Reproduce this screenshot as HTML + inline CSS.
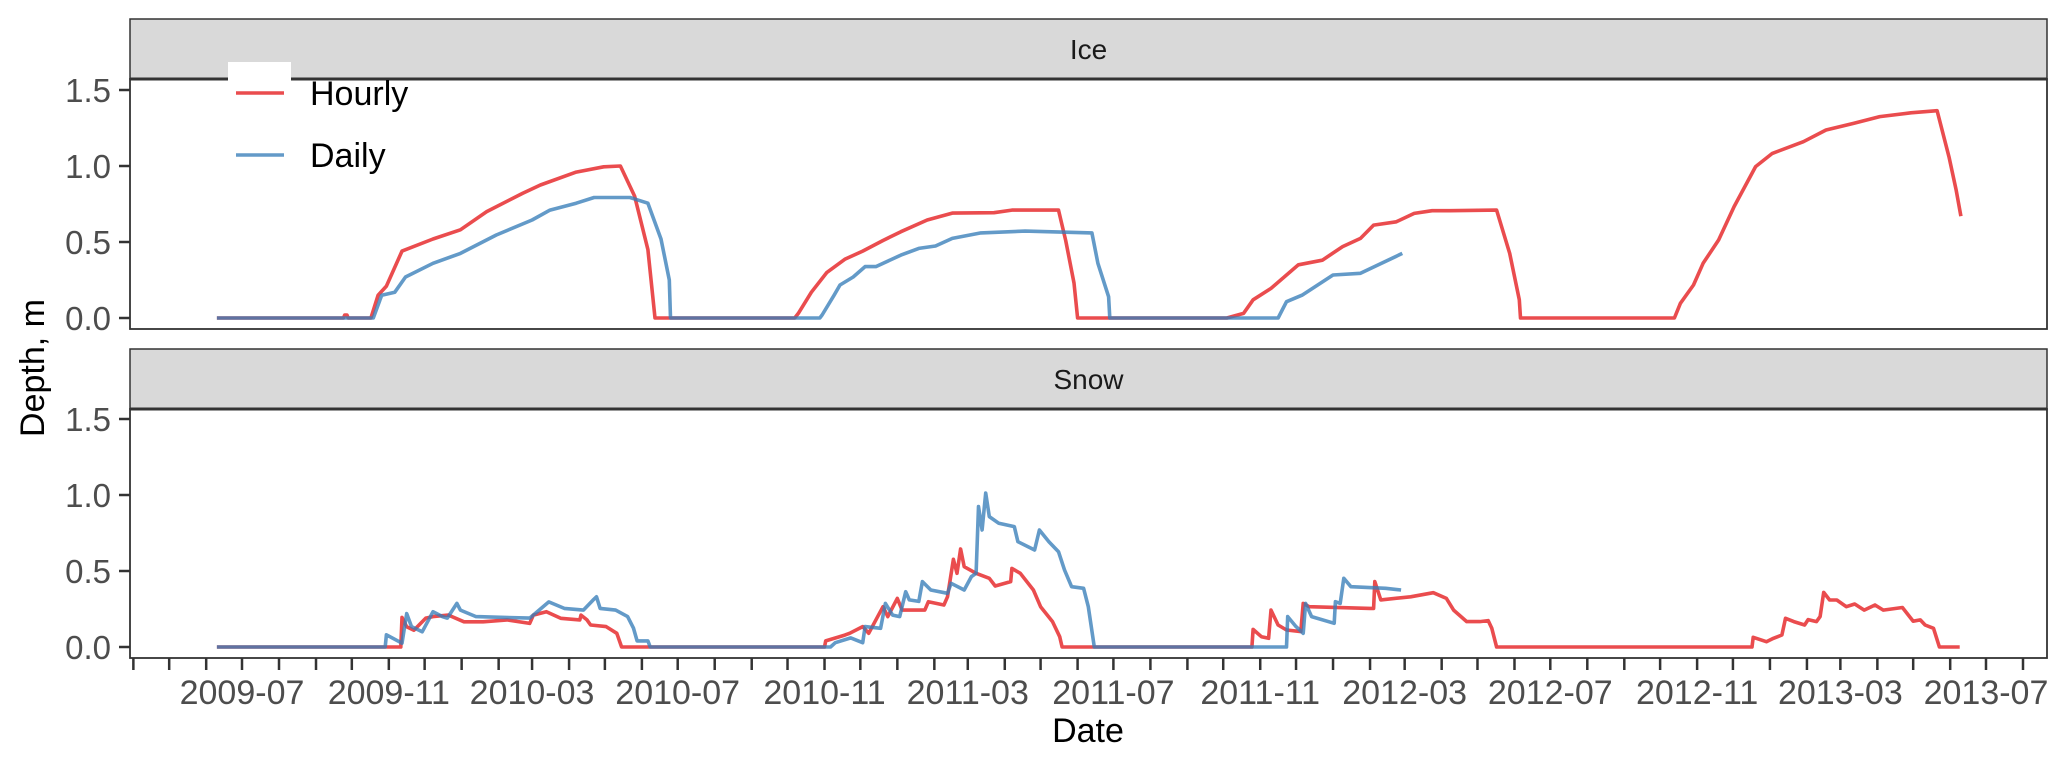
<!DOCTYPE html>
<html><head><meta charset="utf-8">
<style>
html,body{margin:0;padding:0;background:#fff;}
svg{display:block;font-family:"Liberation Sans",Arial,sans-serif;}
</style></head>
<body>
<svg id="chart" width="2067" height="765" viewBox="0 0 2067 765"></svg>
<script>
// ---- data (days since 2009-07-01, depth in m) ----
const iceHourlyDays = [-21,85,86,88,89,108,114,121,134,160,183,205,235,250,280,303,317,329,340,346,463,466,477,490,505,520,537,552,574,595,630,645,684,690,697,700,825,839,847,862,885,905,922,937,948,967,982,997,1012,1051,1062,1070,1071,1200,1205,1216,1224,1237,1250,1268,1282,1308,1327,1350,1372,1398,1420,1430,1436,1440];
const iceHourlyVals = [0,0,0.02,0.02,0,0,0.15,0.21,0.44,0.52,0.58,0.70,0.82,0.875,0.96,0.995,1.0,0.80,0.45,0,0,0.03,0.17,0.30,0.386,0.44,0.51,0.568,0.645,0.69,0.693,0.71,0.71,0.51,0.23,0,0,0.03,0.12,0.195,0.35,0.38,0.47,0.524,0.611,0.633,0.688,0.706,0.706,0.71,0.425,0.12,0,0,0.097,0.217,0.36,0.513,0.733,0.996,1.083,1.16,1.237,1.28,1.325,1.35,1.364,1.06,0.84,0.67];
const iceDailyDays = [-21,110,117,128,137,160,183,213,243,258,280,295,325,340,351,358,359,484,486,496,501,512,522,531,552,567,581,595,619,656,712,717,726,727,868,875,888,914,937,952,972];
const iceDailyVals = [0,0,0.15,0.17,0.27,0.36,0.425,0.546,0.645,0.71,0.755,0.793,0.793,0.755,0.52,0.25,0,0,0.02,0.15,0.217,0.27,0.338,0.338,0.414,0.458,0.474,0.524,0.56,0.572,0.56,0.36,0.14,0,0,0.107,0.15,0.283,0.294,0.35,0.425];
const snowHourlyDays = [-21,133,134,138,144,154,160,173,186,202,222,241,244,255,267,283,284,289,292,305,314,318,488,489,505,509,520,525,537,541,549,553,572,575,588,591,596,599,602,605,615,626,631,644,645,652,663,669,679,685,687,846,847,854,860,862,868,875,887,889,894,945,948,949,954,979,998,1009,1015,1026,1037,1044,1047,1051,1265,1266,1277,1283,1290,1293,1300,1309,1312,1319,1322,1325,1330,1336,1344,1351,1359,1368,1375,1391,1400,1406,1410,1417,1422,1439];
const snowHourlyVals = [0,0,0.195,0.133,0.11,0.19,0.2,0.21,0.166,0.166,0.178,0.155,0.21,0.232,0.189,0.178,0.21,0.178,0.145,0.134,0.09,0,0,0.04,0.078,0.09,0.134,0.09,0.265,0.2,0.32,0.243,0.243,0.298,0.276,0.33,0.577,0.485,0.645,0.528,0.485,0.452,0.401,0.43,0.517,0.485,0.375,0.265,0.167,0.068,0,0,0.116,0.068,0.057,0.243,0.145,0.112,0.101,0.287,0.265,0.254,0.254,0.43,0.31,0.33,0.357,0.32,0.243,0.167,0.167,0.174,0.123,0,0,0.064,0.035,0.057,0.079,0.189,0.167,0.145,0.18,0.167,0.2,0.359,0.309,0.309,0.265,0.283,0.243,0.276,0.243,0.26,0.17,0.178,0.145,0.123,0,0];
const snowDailyDays = [-21,120,121,134,138,142,151,160,168,172,180,183,196,241,257,270,286,294,297,300,313,323,328,331,340,342,493,497,510,520,522,535,539,545,551,556,559,567,570,577,591,594,605,611,615,617,620,623,626,634,647,650,664,668,676,684,689,695,705,709,714,875,876,883,889,891,896,915,916,920,923,929,958,971];
const snowDailyVals = [0,0,0.08,0.025,0.22,0.134,0.1,0.232,0.2,0.19,0.287,0.243,0.2,0.19,0.297,0.254,0.243,0.308,0.33,0.254,0.243,0.2,0.124,0.04,0.04,0,0,0.028,0.06,0.028,0.134,0.123,0.287,0.21,0.2,0.364,0.31,0.3,0.43,0.375,0.353,0.419,0.375,0.463,0.485,0.924,0.77,1.013,0.858,0.814,0.792,0.693,0.638,0.77,0.693,0.627,0.507,0.397,0.386,0.265,0,0,0.2,0.134,0.09,0.287,0.2,0.156,0.298,0.287,0.452,0.397,0.386,0.375];
const yTickVals = [0.0, 0.5, 1.0, 1.5];
const yTickLabels = ["0.0","0.5","1.0","1.5"];
const xLabelMonths = ["2009-07","2009-11","2010-03","2010-07","2010-11","2011-03","2011-07","2011-11","2012-03","2012-07","2012-11","2013-03","2013-07"];

// ---- layout ----
const svg = document.getElementById('chart');
const NS = 'http://www.w3.org/2000/svg';
const PL = 130, PR = 2047;
const panels = [
  {name:'ice', label:'Ice', stripTop:19, top:79, bottom:329, zero:318},
  {name:'snow', label:'Snow', stripTop:349, top:409, bottom:658, zero:647}
];
const PXPERM = 152;
const BASE = Date.UTC(2009,6,1);
const PXPERDAY = 1.1937;
function xScale(day){ return 242 + day*PXPERDAY; }
function xDate(y,m){ return xScale((Date.UTC(y,m,1)-BASE)/86400000); }
function yScale(p,v){ return p.zero - v*PXPERM; }
function mk(tag, attrs, parent){
  const e = document.createElementNS(NS, tag);
  for (const k in attrs) e.setAttribute(k, attrs[k]);
  (parent||svg).appendChild(e);
  return e;
}
const RED = '#E41A1C', BLUE = '#377EB8';

panels.forEach(p => {
  const g = mk('g', {});
  
  
  const st = mk('rect', {x:PL, y:p.stripTop, width:PR-PL, height:p.top-p.stripTop, fill:'#d9d9d9', stroke:'#333', 'stroke-width':1.5}, g);
  
  
  const stt = mk('text', {x:(PL+PR)/2, y:(p.stripTop+p.top)/2+10, 'text-anchor':'middle', 'font-size':28, fill:'#1a1a1a'}, g);
  stt.textContent = p.label;
  
  
  yTickVals.forEach((v,i) => {
    const y = yScale(p, v);
    const tk = mk('line', {x1:119, x2:PL, y1:y, y2:y, stroke:'#333', 'stroke-width':2.5}, g);
    
    
    const tl = mk('text', {x:111, y:y+12, 'text-anchor':'end', 'font-size':33, fill:'#4d4d4d'}, g);
    tl.textContent = yTickLabels[i];
    
    
  });
  const series = p.name === 'ice'
    ? [[iceHourlyDays, iceHourlyVals, RED, 'hourly'], [iceDailyDays, iceDailyVals, BLUE, 'daily']]
    : [[snowHourlyDays, snowHourlyVals, RED, 'hourly'], [snowDailyDays, snowDailyVals, BLUE, 'daily']];
  series.forEach(s => {
    const pts = s[0].map((d,i) => xScale(d).toFixed(1) + ',' + yScale(p, s[1][i]).toFixed(1)).join(' ');
    const pl = mk('polyline', {points:pts, fill:'none', stroke:s[2], 'stroke-opacity':0.78, 'stroke-width':3.6, 'stroke-linejoin':'round'}, g);
    
    
  });
  const bd = mk('rect', {x:PL, y:p.top, width:PR-PL, height:p.bottom-p.top, fill:'none', stroke:'#333', 'stroke-width':1.8}, g);
  
  
  const tb = mk('line', {x1:PL, x2:PR, y1:p.top, y2:p.top, stroke:'#333', 'stroke-width':3}, g);
  
  
});

const xg = mk('g', {});


for (let k = 0; k <= 52; k++) {
  const yr = 2009 + Math.floor((3+k)/12), mo = (3+k)%12;
  const x = xDate(yr, mo);
  const tk = mk('line', {x1:x, x2:x, y1:658, y2:670, stroke:'#333', 'stroke-width':2.5}, xg);
  
  
}
xLabelMonths.forEach(s => {
  const yr = +s.slice(0,4), mo = +s.slice(5) - 1;
  const t = mk('text', {x:xDate(yr, mo), y:704, 'text-anchor':'middle', 'font-size':34, fill:'#4d4d4d'}, xg);
  t.textContent = s;
  
  
});
const xt = mk('text', {x:1088, y:742, 'text-anchor':'middle', 'font-size':34, fill:'#000'});
xt.textContent = 'Date';


const yt = mk('text', {x:0, y:0, 'text-anchor':'middle', 'font-size':34, fill:'#000', transform:'translate(44,368) rotate(-90)'});
yt.textContent = 'Depth, m';



const lg = mk('g', {});


const lbg = mk('rect', {x:228, y:62, width:63, height:120, fill:'#fff'}, lg);


[['Hourly', RED, 93], ['Daily', BLUE, 155]].forEach(e => {
  const l = mk('line', {x1:236, x2:284, y1:e[2], y2:e[2], stroke:e[1], 'stroke-opacity':0.78, 'stroke-width':3.6}, lg);
  
  
  const t = mk('text', {x:310, y:e[2]+12, 'font-size':34, fill:'#000'}, lg);
  t.textContent = e[0];
  
  
});
</script>
</body></html>
